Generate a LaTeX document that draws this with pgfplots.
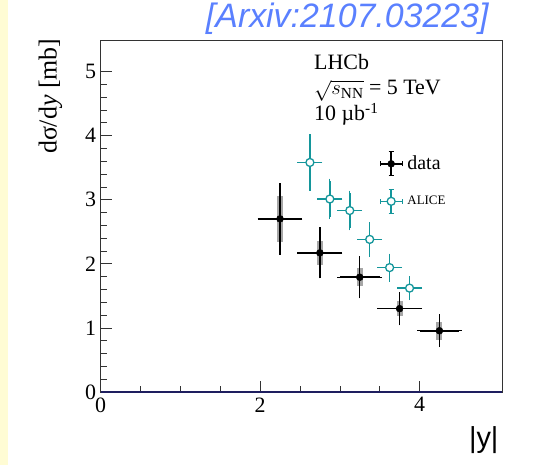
\documentclass[border=0pt]{standalone}
\usepackage{pgfplots}
\usepackage{pgfplotstable}
\pgfplotsset{compat=1.18}
\usepackage{fontspec}
\setmainfont{Liberation Serif}
\newfontfamily\arial{Liberation Sans}
\definecolor{alice}{RGB}{20,150,155}
\definecolor{arx}{RGB}{90,128,255}
\definecolor{navy}{RGB}{30,30,95}
\definecolor{lyellow}{RGB}{255,252,212}

\pgfplotstableread{
x     y     ex    ey     sys
2.25  2.70  0.25  0.52   0.36
2.75  2.17  0.25  0.36   0.19
3.25  1.79  0.25  0.29   0.14
3.75  1.30  0.25  0.22   0.12
4.25  0.955 0.25  0.215  0.14
}\lhcbdata

\pgfplotstableread{
x      y     ex     ey
2.625  3.58  0.125  0.40
2.875  3.01  0.125  0.28
3.125  2.83  0.125  0.27
3.375  2.38  0.125  0.23
3.625  1.94  0.125  0.18
3.875  1.62  0.125  0.15
}\alicedata

\begin{document}
\begin{tikzpicture}
\useasboundingbox (-100.7bp,-73bp) rectangle (439.3bp,392bp);
\fill[lyellow] (-100.7bp,-73bp) rectangle (-92.7bp,392bp);
\begin{axis}[
  at={(0,0)}, anchor=south west,
  scale only axis, width=401.3bp, height=352bp,
  xmin=0, xmax=5.035, ymin=0, ymax=5.49,
  axis line style={draw=black!80, line width=0.6pt},
  xtick={0,2,4}, minor x tick num=3,
  ytick={0,1,2,3,4,5}, minor y tick num=4,
  tick align=inside, xtick pos=lower, ytick pos=left,
  major tick length=11bp, minor tick length=6bp,
  tick style={black!80, line width=0.6pt},
  ticklabel style={font=\fontsize{22}{24}\selectfont},
  /pgf/number format/assume math mode=true,
  xticklabel style={yshift=-2bp},
  yticklabel style={xshift=-1bp},
  ylabel={dσ/d\textit{y} [mb]},
  ylabel style={at={(axis description cs:-0.11,1.0142)}, anchor=base east, font=\fontsize{26}{28}\selectfont},
  xlabel={|y|},
  xlabel style={at={(axis description cs:1.0,-0.159)}, anchor=base east, font=\arial\fontsize{29}{30}\selectfont},
  title={[Arxiv:2107.03223]},
  title style={at={(axis description cs:0.975,1.0199)}, anchor=base east, font=\arial\itshape\fontsize{34}{36}\selectfont, text=arx},
  legend style={draw=none, fill=none, at={(axis description cs:0.694,0.685)}, anchor=north west,
    row sep=12bp, inner sep=0pt, nodes={inner sep=1.5bp}},
  legend cell align=left,
]
% systematic boxes
\addplot[only marks, mark=none, forget plot,
  error bars/.cd, y dir=both, y explicit,
  error bar style={line width=6bp, gray!70}, error mark=none]
  table[x=x, y=y, y error=sys] {\lhcbdata};
% LHCb data
\addplot[only marks, black, mark=*, mark size=3.5bp, forget plot,
  error bars/.cd, x dir=both, x explicit, y dir=both, y explicit,
  error bar style={line width=1.5bp, black},
  error mark options={line width=1.3bp, mark size=2.5bp, black}]
  table[x=x, y=y, x error=ex, y error=ey] {\lhcbdata};
% ALICE
\addplot[only marks, alice, mark=*, mark size=4bp, forget plot, mark options={fill=white, draw=alice, line width=1.3bp},
  error bars/.cd, x dir=both, x explicit, y dir=both, y explicit,
  error bar style={line width=1.5bp, alice},
  error mark options={line width=1.3bp, mark size=2.5bp, alice}]
  table[x=x, y=y, x error=ex, y error=ey] {\alicedata};
\addlegendimage{legend image code/.code={
  \draw[black, line width=1.5bp] (0bp,0bp) -- (22bp,0bp);
  \draw[black, line width=1.5bp] (11bp,-12bp) -- (11bp,12bp);
  \draw[black, line width=1.3bp] (0bp,-2.5bp) -- (0bp,2.5bp) (22bp,-2.5bp) -- (22bp,2.5bp) (8.5bp,12bp) -- (13.5bp,12bp) (8.5bp,-12bp) -- (13.5bp,-12bp);
  \fill[black] (11bp,0bp) circle (3.5bp);
}}
\addlegendentry{\hspace{3bp}\fontsize{20}{22}\selectfont data}
\addlegendimage{legend image code/.code={
  \draw[alice, line width=1.5bp] (0bp,0bp) -- (22bp,0bp);
  \draw[alice, line width=1.5bp] (11bp,-12bp) -- (11bp,12bp);
  \draw[alice, line width=1.3bp] (0bp,-2.5bp) -- (0bp,2.5bp) (22bp,-2.5bp) -- (22bp,2.5bp) (8.5bp,12bp) -- (13.5bp,12bp) (8.5bp,-12bp) -- (13.5bp,-12bp);
  \filldraw[fill=white, draw=alice, line width=1.3bp] (11bp,0bp) circle (4bp);
}}
\addlegendentry{\hspace{3bp}\fontsize{13}{15}\selectfont ALICE}
\node[anchor=base west, font=\fontsize{22}{24}\selectfont, inner sep=0pt] at (axis description cs:0.5315,0.915) {LHCb};
\node[anchor=base west, font=\fontsize{22}{24}\selectfont, inner sep=0pt] at (axis description cs:0.5315,0.8438) {\smash{$\sqrt{s_{\mathrm{NN}}}$} = 5 TeV};
\node[anchor=base west, font=\fontsize{22}{24}\selectfont, inner sep=0pt] at (axis description cs:0.5315,0.770) {10 µb\textsuperscript{-1}};
\draw[navy, line width=1.6bp] (axis cs:0,0) -- (axis cs:5.035,0);
\end{axis}
\end{tikzpicture}
\end{document}
